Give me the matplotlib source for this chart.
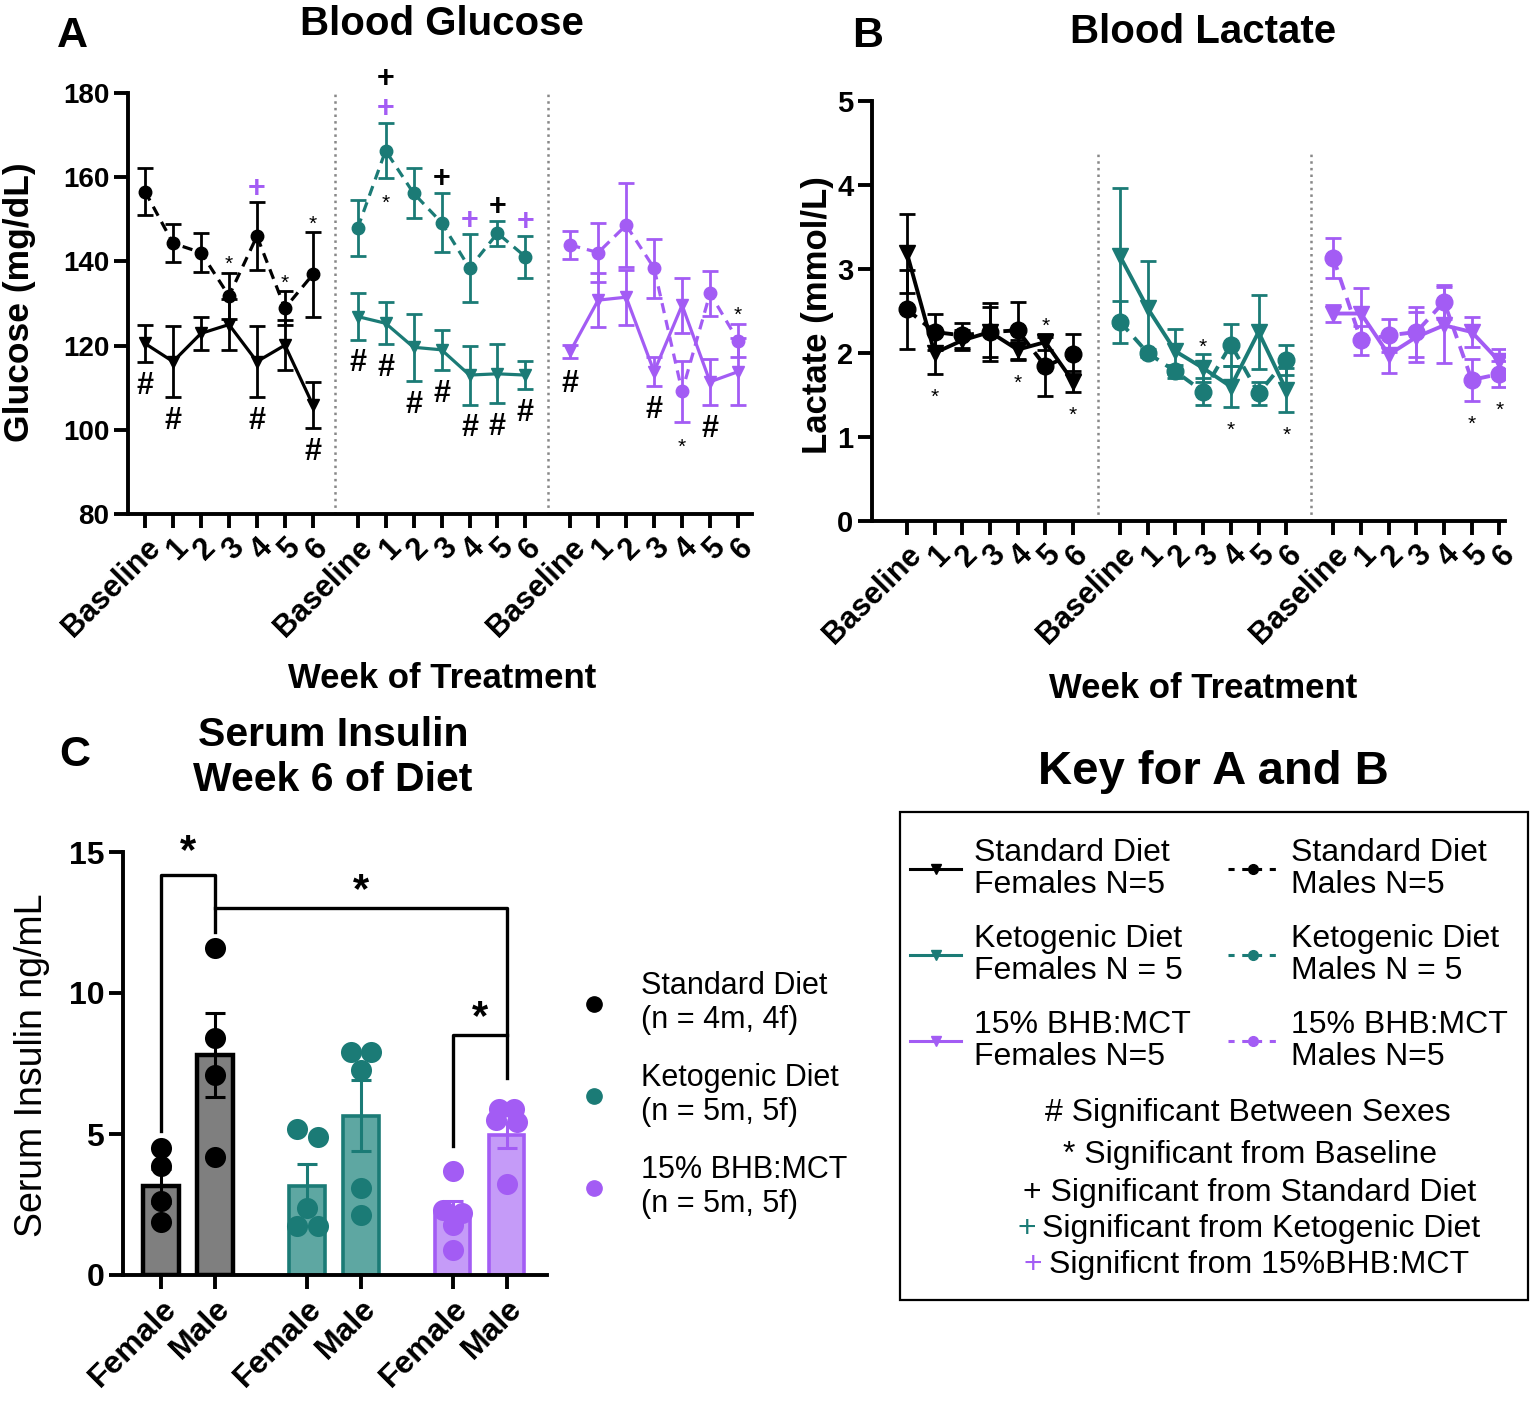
import numpy as np
import matplotlib
matplotlib.use('Agg')
import matplotlib.pyplot as plt
from matplotlib.lines import Line2D
from matplotlib.patches import Rectangle

plt.rcParams['font.family'] = ['Liberation Sans', 'DejaVu Sans']

W, H = 1536, 1403
BLACK = '#000000'
TEAL = '#1b7b76'
PURPLE = '#a35cf4'
colors = [BLACK, TEAL, PURPLE]

weeks = ['Baseline', '1', '2', '3', '4', '5', '6']

# ---- Blood glucose (mg/dL), mean and SEM ----
glu_std_f = [120.5, 116.2, 122.9, 125.0, 116.2, 120.1, 105.9]
glu_std_f_err = [4.4, 8.5, 4.0, 6.0, 8.5, 6.0, 5.5]
glu_std_m = [156.6, 144.3, 142.1, 131.8, 146.0, 128.9, 136.9]
glu_std_m_err = [5.5, 4.5, 4.6, 5.5, 8.0, 4.0, 10.0]
glu_keto_f = [126.9, 125.3, 119.6, 119.0, 113.0, 113.3, 113.0]
glu_keto_f_err = [5.5, 5.0, 8.0, 4.8, 7.0, 7.0, 3.3]
glu_keto_m = [147.9, 166.3, 156.2, 149.2, 138.4, 146.7, 141.1]
glu_keto_m_err = [6.7, 6.5, 6.0, 7.0, 8.0, 3.0, 5.0]
glu_bhb_f = [118.6, 130.8, 131.5, 113.8, 129.6, 111.4, 113.8]
glu_bhb_f_err = [1.5, 6.5, 6.5, 3.5, 6.5, 5.5, 8.0]
glu_bhb_m = [143.9, 142.1, 148.6, 138.4, 109.1, 132.4, 121.2]
glu_bhb_m_err = [3.3, 7.0, 10.0, 7.0, 7.3, 5.3, 4.0]

# ---- Blood lactate (mmol/L), mean and SEM ----
lac_std_f = [3.19, 2.00, 2.15, 2.25, 2.04, 2.13, 1.66]
lac_std_f_err = [0.47, 0.25, 0.12, 0.35, 0.12, 0.10, 0.12]
lac_std_m = [2.52, 2.25, 2.21, 2.25, 2.27, 1.84, 1.99]
lac_std_m_err = [0.47, 0.22, 0.15, 0.30, 0.34, 0.35, 0.24]
lac_keto_f = [3.15, 2.53, 2.02, 1.82, 1.60, 2.25, 1.56]
lac_keto_f_err = [0.82, 0.57, 0.27, 0.17, 0.24, 0.44, 0.26]
lac_keto_m = [2.37, 2.00, 1.78, 1.54, 2.10, 1.52, 1.92]
lac_keto_m_err = [0.25, 0.05, 0.08, 0.16, 0.25, 0.14, 0.18]
lac_bhb_f = [2.47, 2.47, 1.98, 2.19, 2.33, 2.25, 1.90]
lac_bhb_f_err = [0.10, 0.30, 0.22, 0.30, 0.45, 0.18, 0.15]
lac_bhb_m = [3.13, 2.15, 2.21, 2.25, 2.61, 1.68, 1.75]
lac_bhb_m_err = [0.24, 0.17, 0.20, 0.30, 0.20, 0.25, 0.15]

# ---- Serum insulin week 6 (ng/mL) ----
sex_labels = ['Female', 'Male', 'Female', 'Male', 'Female', 'Male']
ins_mean = [3.17, 7.80, 3.15, 5.65, 2.22, 4.95]
ins_sem = [0.60, 1.50, 0.77, 1.25, 0.42, 0.45]
ins_points = [
    [4.52, 3.87, 2.62, 1.87],
    [11.6, 8.4, 7.1, 4.2],
    [5.17, 4.88, 2.39, 1.72, 1.72],
    [7.92, 7.92, 7.26, 3.10, 2.11],
    [3.69, 2.32, 2.20, 1.79, 0.89],
    [5.90, 5.90, 5.48, 5.42, 3.21],
]
jitter = [
    [0, 0, 0, 0],
    [0, 0, 0, 0],
    [-0.18, 0.2, 0, -0.18, 0.2],
    [-0.19, 0.19, 0, 0, 0],
    [0, -0.18, 0.18, 0, 0],
    [-0.14, 0.14, -0.2, 0.2, 0],
]

glu = [(glu_std_f, glu_std_f_err, glu_std_m, glu_std_m_err),
       (glu_keto_f, glu_keto_f_err, glu_keto_m, glu_keto_m_err),
       (glu_bhb_f, glu_bhb_f_err, glu_bhb_m, glu_bhb_m_err)]
lac = [(lac_std_f, lac_std_f_err, lac_std_m, lac_std_m_err),
       (lac_keto_f, lac_keto_f_err, lac_keto_m, lac_keto_m_err),
       (lac_bhb_f, lac_bhb_f_err, lac_bhb_m, lac_bhb_m_err)]

# significance marks: (diet, week, sex, symbol, colour, offset in points)
glu_marks = [
    (0, 0, 'f', '#', BLACK, -17), (0, 1, 'f', '#', BLACK, -17),
    (0, 4, 'f', '#', BLACK, -17), (0, 6, 'f', '#', BLACK, -17),
    (0, 3, 'm', '*', BLACK, 6), (0, 5, 'm', '*', BLACK, 6), (0, 6, 'm', '*', BLACK, 6),
    (0, 4, 'm', '+', PURPLE, 10),
] + [(1, i, 'f', '#', BLACK, -17) for i in range(7)] + [
    (1, 1, 'm', '+', PURPLE, 10), (1, 4, 'm', '+', PURPLE, 10), (1, 6, 'm', '+', PURPLE, 10),
    (1, 1, 'm', '+', BLACK, 32), (1, 3, 'm', '+', BLACK, 10), (1, 5, 'm', '+', BLACK, 10),
    (1, 1, 'm', '*', BLACK, -18),
    (2, 0, 'f', '#', BLACK, -19), (2, 3, 'f', '#', BLACK, -17), (2, 5, 'f', '#', BLACK, -17),
    (2, 4, 'm', '*', BLACK, -18), (2, 6, 'm', '*', BLACK, 6),
]
lac_marks = [
    (0, 1, 'f', '*', BLACK, -17), (0, 4, 'f', '*', BLACK, -17), (0, 6, 'f', '*', BLACK, -17),
    (0, 5, 'f', '*', BLACK, 5),
    (1, 3, 'f', '*', BLACK, 5), (1, 4, 'f', '*', BLACK, -17), (1, 6, 'f', '*', BLACK, -17),
    (2, 5, 'm', '*', BLACK, -17), (2, 6, 'm', '*', BLACK, -17),
]


def P(x, y):
    return x / W, 1 - y / H


def style_axis(ax, lw=2.8, ysize=20):
    for s in ['top', 'right']:
        ax.spines[s].set_visible(False)
    for s in ['left', 'bottom']:
        ax.spines[s].set_linewidth(lw)
    ax.tick_params(width=lw, length=10)
    ax.tick_params(axis='y', labelsize=ysize)
    for lab in ax.get_yticklabels():
        lab.set_fontweight('bold')


def line_panel(ax, data, marks, gap, ms, lw, sep_top):
    xs_all = []
    for g, (f, fe, m, me) in enumerate(data):
        x = np.arange(7) + g * gap
        xs_all.extend(x)
        c = colors[g]
        ax.errorbar(x, m, yerr=me, fmt='none', ecolor=c, elinewidth=2, capsize=6, capthick=2)
        ax.plot(x, m, ls=(0, (3.2, 2.2)), lw=lw, color=c, marker='o', ms=ms)
        ax.errorbar(x, f, yerr=fe, fmt='none', ecolor=c, elinewidth=2, capsize=6, capthick=2)
        ax.plot(x, f, ls='-', lw=lw, color=c, marker='v', ms=ms)
    for g in (1, 2):
        ax.axvline(g * gap - 0.8, ymax=sep_top, color='#888888', ls=':', lw=1.8)
    for d, w, sex, sym, col, off in marks:
        f, fe, m, me = data[d]
        val, err = (f[w], fe[w]) if sex == 'f' else (m[w], me[w])
        y = val + err if off > 0 else val - err
        if sym == '*':
            fs, fw = 15, 'normal'
        else:
            fs, fw = 22, 'bold'
        ax.annotate(sym, (w + d * gap, y), xytext=(0, off), textcoords='offset points',
                    ha='center', va='center', fontsize=fs, fontweight=fw, color=col,
                    annotation_clip=False)
    ax.set_xticks(xs_all)
    ax.set_xticklabels(weeks * 3, rotation=45, ha='right', rotation_mode='anchor',
                       fontsize=22, fontweight='bold')


fig = plt.figure(figsize=(W / 100, H / 100), dpi=100)

# ---------------- Panel A ----------------
axA = fig.add_axes([128 / W, 1 - 514 / H, (752 - 128) / W, (514 - 93) / H])
line_panel(axA, glu, glu_marks, 7.6, 9, 2.3, 1.0)
axA.set_xlim(-0.61, 21.7)
axA.set_ylim(80, 180)
axA.set_yticks(range(80, 181, 20))
style_axis(axA)
fig.text(*P(442, 24), 'Blood Glucose', ha='center', va='center', fontsize=29, fontweight='bold')
fig.text(*P(72, 36), 'A', ha='center', va='center', fontsize=31, fontweight='bold')
fig.text(*P(442, 678), 'Week of Treatment', ha='center', va='center', fontsize=25, fontweight='bold')
fig.text(*P(20, 302), 'Glucose (mg/dL)', ha='center', va='center', rotation=90, fontsize=25.5, fontweight='bold')

# ---------------- Panel B ----------------
axB = fig.add_axes([872 / W, 1 - 521 / H, (1505 - 872) / W, (521 - 101) / H])
line_panel(axB, lac, lac_marks, 7.7, 12, 2.8, 0.88)
axB.set_xlim(-1.26, 21.6)
axB.set_ylim(0, 5)
axB.set_yticks(range(0, 6))
style_axis(axB, ysize=21)
fig.text(*P(1203, 32), 'Blood Lactate', ha='center', va='center', fontsize=29, fontweight='bold')
fig.text(*P(868, 36), 'B', ha='center', va='center', fontsize=31, fontweight='bold')
fig.text(*P(1203, 688), 'Week of Treatment', ha='center', va='center', fontsize=25, fontweight='bold')
fig.text(*P(817, 315), 'Lactate (mmol/L)', ha='center', va='center', rotation=90, fontsize=25, fontweight='bold')

# ---------------- Panel C ----------------
axC = fig.add_axes([123 / W, 1 - 1275 / H, (547 - 123) / W, (1275 - 852) / H])
bar_x = [g * 2.7 + s for g in range(3) for s in range(2)]
fills = ['#7f7f7f', '#7f7f7f', '#5ea7a2', '#5ea7a2', '#c59bf8', '#c59bf8']
edges = [BLACK, BLACK, TEAL, TEAL, PURPLE, PURPLE]
edge_w = [3.2, 3.2, 2.6, 2.6, 2.6, 2.6]
for i in range(6):
    axC.bar(bar_x[i], ins_mean[i], width=0.66, color=fills[i], edgecolor=edges[i],
            linewidth=edge_w[i], zorder=2)
    axC.errorbar(bar_x[i], ins_mean[i], yerr=ins_sem[i], fmt='none', ecolor=edges[i],
                 elinewidth=2.2, capsize=7, capthick=2.2, zorder=3)
    px = np.array(jitter[i]) + bar_x[i]
    axC.scatter(px, ins_points[i], s=230, color=edges[i], zorder=4, linewidths=0)
axC.set_xlim(-0.71, 7.15)
axC.set_ylim(0, 15)
axC.set_yticks([0, 5, 10, 15])
axC.set_xticks(bar_x)
axC.set_xticklabels(sex_labels, rotation=45, ha='right', rotation_mode='anchor',
                    fontsize=23, fontweight='bold')
style_axis(axC, ysize=23)

# significance brackets
bk = dict(color=BLACK, lw=2.4, clip_on=False, zorder=5)
axC.plot([bar_x[0], bar_x[0], bar_x[1], bar_x[1]],
         [max(ins_points[0]) + 0.6, 14.2, 14.2, max(ins_points[1]) + 0.55], **bk)
axC.plot([bar_x[1], bar_x[5], bar_x[5]], [13.0, 13.0, max(ins_points[5]) + 1.1], **bk)
axC.plot([bar_x[4], bar_x[4], bar_x[5]], [max(ins_points[4]) + 0.9, 8.5, 8.5], **bk)
star = dict(ha='center', va='center', fontsize=30, fontweight='bold', clip_on=False)
axC.text((bar_x[0] + bar_x[1]) / 2, 15.0, '*', **star)
axC.text((bar_x[1] + bar_x[5]) / 2, 13.6, '*', **star)
axC.text((bar_x[4] + bar_x[5]) / 2, 9.1, '*', **star)

fig.text(*P(333, 735), 'Serum Insulin', ha='center', va='center', fontsize=29.5, fontweight='bold')
fig.text(*P(333, 780), 'Week 6 of Diet', ha='center', va='center', fontsize=29.5, fontweight='bold')
fig.text(*P(75, 755), 'C', ha='center', va='center', fontsize=31, fontweight='bold')
fig.text(*P(32, 1065), 'Serum Insulin ng/mL', ha='center', va='center', rotation=90, fontsize=27)

# legend for C
c_handles = [Line2D([], [], ls='', marker='o', ms=11, color=c) for c in colors]
c_labels = ['Standard Diet\n(n = 4m, 4f)', 'Ketogenic Diet\n(n = 5m, 5f)', '15% BHB:MCT\n(n = 5m, 5f)']
legC = fig.legend(c_handles, c_labels, loc='center left', bbox_to_anchor=P(580, 1095),
                  frameon=False, fontsize=22, handlelength=0.9, handletextpad=1.1,
                  labelspacing=0.9, borderpad=0, borderaxespad=0)

# ---------------- Key for A and B ----------------
fig.text(*P(1213, 772), 'Key for A and B', ha='center', va='center', fontsize=34, fontweight='bold')
fig.add_artist(Rectangle(P(900, 1300), 628 / W, 488 / H, transform=fig.transFigure,
                         fill=False, ec=BLACK, lw=1.6))
k_handles = []
k_labels = []
names = ['Standard Diet', 'Ketogenic Diet', '15% BHB:MCT']
f_n = ['Females N=5', 'Females N = 5', 'Females N=5']
m_n = ['Males N=5', 'Males N = 5', 'Males N=5']
for g in range(3):
    k_handles.append(Line2D([], [], color=colors[g], lw=2.2, marker='v', ms=7))
    k_labels.append(names[g] + '\n' + f_n[g])
for g in range(3):
    k_handles.append(Line2D([], [], color=colors[g], lw=2.2, ls=(0, (2, 2.5)), marker='o', ms=7))
    k_labels.append(names[g] + '\n' + m_n[g])
legK = fig.legend(k_handles, k_labels, loc='upper left', bbox_to_anchor=P(910, 838), ncol=2,
                  frameon=False, fontsize=23, handlelength=1.6, handletextpad=0.4,
                  columnspacing=1.15, labelspacing=0.74, borderpad=0, borderaxespad=0)
for t in legK.get_texts():
    t.set_linespacing(1.1)

kt = dict(va='center', fontsize=23)
fig.text(*P(1248, 1113), '# Significant Between Sexes', ha='center', **kt)
fig.text(*P(1250, 1155), '* Significant from Baseline', ha='center', **kt)
fig.text(*P(1250, 1193), '+ Significant from Standard Diet', ha='center', **kt)
fig.text(*P(1027, 1229), '+', ha='center', color=TEAL, **kt)
fig.text(*P(1042, 1229), 'Significant from Ketogenic Diet', ha='left', **kt)
fig.text(*P(1033, 1265), '+', ha='center', color=PURPLE, **kt)
fig.text(*P(1049, 1265), 'Significnt from 15%BHB:MCT', ha='left', **kt)

fig.savefig('out.png', dpi=100, facecolor='white')
